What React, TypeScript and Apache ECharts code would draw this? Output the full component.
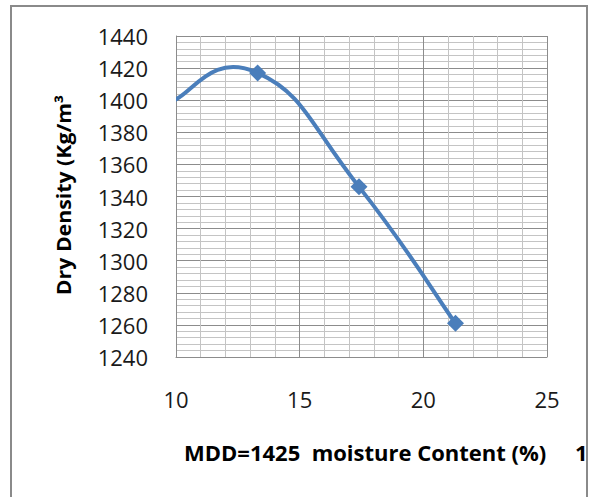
import React, { useEffect, useRef } from "react";
import * as echarts from "echarts";

// Compaction test: moisture content (%) vs dry density (kg/m³).
// The first reading lies just left of the 10 % edge; only its curve shows.
const moisture: number[] = [9.8, 13.3, 17.4, 21.3];
const dryDensity: number[] = [1399, 1417, 1346, 1261];
const xTicks = { min: 10, max: 25, step: 5 };
const yTicks = { min: 1240, max: 1440, step: 20 };
const yTitle = "Dry Density (Kg/m³";
const xTitle = "MDD=1425  moisture Content (%)     1";

const BLUE = "#4a7ebb";
const MAJOR = "#8c8c8c";
const MINOR = "#c4c4c4";
const FONT = "'Open Sans', Calibri, sans-serif";
// control-arm length of the smoothed curve (cardinal spline)
const TENSION = 0.25;

export default function App() {
  const ref = useRef<HTMLDivElement>(null);

  useEffect(() => {
    if (!ref.current) return;
    const chart = echarts.init(ref.current, undefined, { renderer: "svg" });

    const pts = moisture.map((m, i) => [m, dryDensity[i]]);
    const n = pts.length;

    const axisCommon = {
      type: "value",
      axisLine: { show: true, lineStyle: { color: MAJOR, width: 1 } },
      axisTick: { show: false },
      minorTick: { show: false, splitNumber: 5 },
      splitLine: { show: true, lineStyle: { color: MAJOR, width: 1 } },
      minorSplitLine: { show: true, lineStyle: { color: MINOR, width: 1 } },
    };

    chart.setOption({
      animation: false,
      backgroundColor: "#ffffff",
      grid: { left: 176, top: 36, right: 51, bottom: 140, containLabel: false },
      xAxis: {
        ...axisCommon,
        min: xTicks.min,
        max: xTicks.max,
        interval: xTicks.step,
        axisLabel: {
          margin: 31,
          color: "#1a1a1a",
          fontSize: 22,
          fontFamily: FONT,
          formatter: (v: number) => String(v),
        },
      },
      yAxis: {
        ...axisCommon,
        min: yTicks.min,
        max: yTicks.max,
        interval: yTicks.step,
        axisLabel: {
          margin: 28,
          color: "#1a1a1a",
          fontSize: 22,
          fontFamily: FONT,
          formatter: (v: number) => String(v),
        },
      },
      series: [
        {
          // smoothed curve, one bezier segment per reading
          type: "custom",
          clip: true,
          data: pts,
          encode: { x: 0, y: 1 },
          renderItem: (params: any, api: any) => {
            const i = params.dataIndex;
            if (i >= n - 1) return null;
            const c = (k: number) => {
              const j = Math.max(0, Math.min(n - 1, k));
              return api.coord(pts[j]);
            };
            const p0 = c(i - 1);
            const p1 = c(i);
            const p2 = c(i + 1);
            const p3 = c(i + 2);
            return {
              type: "bezierCurve",
              shape: {
                x1: p1[0],
                y1: p1[1],
                cpx1: p1[0] + TENSION * (p2[0] - p0[0]),
                cpy1: p1[1] + TENSION * (p2[1] - p0[1]),
                cpx2: p2[0] - TENSION * (p3[0] - p1[0]),
                cpy2: p2[1] - TENSION * (p3[1] - p1[1]),
                x2: p2[0],
                y2: p2[1],
              },
              style: { stroke: BLUE, lineWidth: 4, fill: "none", lineCap: "round" },
            };
          },
          z: 2,
        },
        {
          type: "scatter",
          data: pts,
          clip: true,
          symbol: "diamond",
          symbolSize: (v: number[]) => (v[0] < xTicks.min ? 0 : 17),
          itemStyle: { color: BLUE, opacity: 1 },
          z: 3,
        },
      ],
      graphic: [
        {
          type: "rect",
          shape: { x: 11, y: 6, width: 576, height: 520 },
          style: { fill: "none", stroke: "#8a8a8a", lineWidth: 2 },
          silent: true,
          z: 10,
        },
        {
          type: "text",
          x: 63,
          y: 195,
          rotation: Math.PI / 2,
          scaleX: 1.12,
          style: {
            text: yTitle,
            fill: "#000",
            font: `bold 19px ${FONT}`,
            textAlign: "center",
            textVerticalAlign: "middle",
          },
        },
        {
          type: "text",
          x: 184,
          y: 452,
          style: {
            text: xTitle,
            fill: "#000",
            font: `bold 22px ${FONT}`,
            textAlign: "left",
            textVerticalAlign: "middle",
          },
        },
      ],
    });

    return () => chart.dispose();
  }, []);

  return (
    <div
      ref={ref}
      style={{ position: "fixed", left: 0, top: 0, width: 598, height: 497 }}
    />
  );
}
